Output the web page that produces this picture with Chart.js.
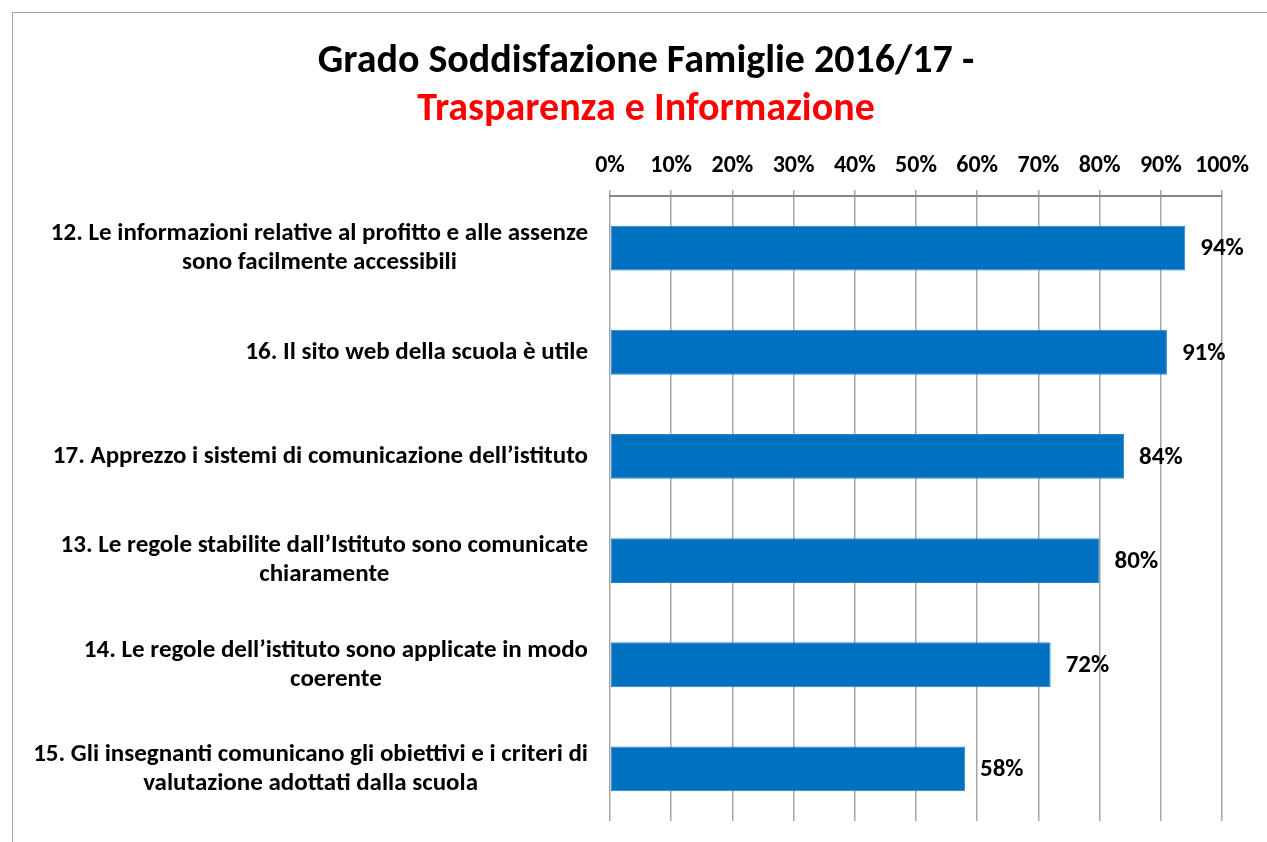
<!DOCTYPE html>
<html>
<head>
<meta charset="utf-8">
<script src="https://cdn.jsdelivr.net/npm/chart.js@4"></script>
<style>
  html, body { margin: 0; padding: 0; background: #fff; overflow: hidden; }
  #frame {
    position: absolute; left: 12px; top: 12px;
    width: 1268px; height: 830px;
    border-left: 1.5px solid #a6a6a6; border-top: 1.5px solid #a6a6a6;
  }
  #wrap { position: absolute; left: 0; top: 0; width: 1267px; height: 829px; }
</style>
</head>
<body>
<div id="frame"><div id="wrap"><canvas id="chart"></canvas></div></div>
<script>
const categories = [
  ['12. Le informazioni relative al profitto e alle assenze', 'sono facilmente accessibili'],
  ['16. Il sito web della scuola è utile'],
  ['17. Apprezzo i sistemi di comunicazione dell\u2019istituto'],
  ['13. Le regole stabilite dall\u2019Istituto sono comunicate', 'chiaramente'],
  ['14. Le regole dell\u2019istituto sono applicate in modo', 'coerente'],
  ['15. Gli insegnanti comunicano gli obiettivi e i criteri di', 'valutazione adottati dalla scuola']
];
const values = [94, 91, 84, 80, 72, 58];
const tickMax = 100;
const tickStep = 10;

const font = "Carlito, Calibri, Lato, sans-serif";

// category labels: block right-aligned to the axis, lines centred inside the block
const catLabels = {
  id: 'catLabels',
  afterDraw(chart) {
    const ctx = chart.ctx, y = chart.scales.y;
    ctx.save();
    ctx.font = 'bold 25px ' + font;
    ctx.fillStyle = '#000';
    ctx.textAlign = 'center';
    ctx.textBaseline = 'middle';
    categories.forEach((lines, i) => {
      const cy = y.getPixelForTick(i);
      const w = Math.max(...lines.map(l => ctx.measureText(l).width));
      const cx = y.right - 22 - w / 2;
      lines.forEach((l, j) => ctx.fillText(l, cx, cy + (j - (lines.length - 1) / 2) * 29));
    });
    ctx.restore();
  }
};

const valueLabels = {
  id: 'valueLabels',
  afterDatasetsDraw(chart) {
    const ctx = chart.ctx;
    const meta = chart.getDatasetMeta(0);
    ctx.save();
    ctx.font = 'bold 25px ' + font;
    ctx.fillStyle = '#000';
    ctx.textAlign = 'left';
    ctx.textBaseline = 'middle';
    meta.data.forEach((bar, i) => ctx.fillText(values[i] + '%', bar.x + 15, bar.y + 1));
    ctx.restore();
  }
};

new Chart(document.getElementById('chart'), {
  type: 'bar',
  data: {
    labels: categories,
    datasets: [{ data: values, backgroundColor: '#0070C0', borderColor: '#2a84c8', borderWidth: 1, borderSkipped: false, categoryPercentage: 1, barPercentage: 0.43 }]
  },
  options: {
    indexAxis: 'y', responsive: true, maintainAspectRatio: false, animation: false,
    layout: { padding: { left: 57, right: 58, bottom: 21, top: 0 } },
    plugins: {
      legend: { display: false },
      tooltip: { enabled: false },
      title: {
        display: true, text: 'Grado Soddisfazione Famiglie 2016/17 -', color: '#000',
        font: { family: font, size: 40, weight: 'bold', lineHeight: 1.0 }, padding: { top: 29, bottom: 4 }
      },
      subtitle: {
        display: true, text: 'Trasparenza e Informazione', color: '#FF0000',
        font: { family: font, size: 40, weight: 'bold', lineHeight: 1.0 }, padding: { top: 4, bottom: 0 }
      }
    },
    scales: {
      x: {
        position: 'top', min: 0, max: tickMax,
        ticks: { stepSize: tickStep, color: '#000', padding: 10, maxRotation: 0, minRotation: 0, autoSkip: false, font: { family: font, size: 24, weight: 'bold' }, callback: v => v + '%' },
        grid: { color: '#a6a6a6', lineWidth: 1.5, tickLength: 6, drawTicks: true },
        border: { color: '#868686', width: 2 },
        afterFit(scale) { scale.height = 66; }
      },
      y: {
        ticks: { display: false },
        grid: { display: false },
        border: { display: false },
        afterFit(scale) { scale.width = 540; }
      }
    }
  },
  plugins: [catLabels, valueLabels]
});
</script>
</body>
</html>
